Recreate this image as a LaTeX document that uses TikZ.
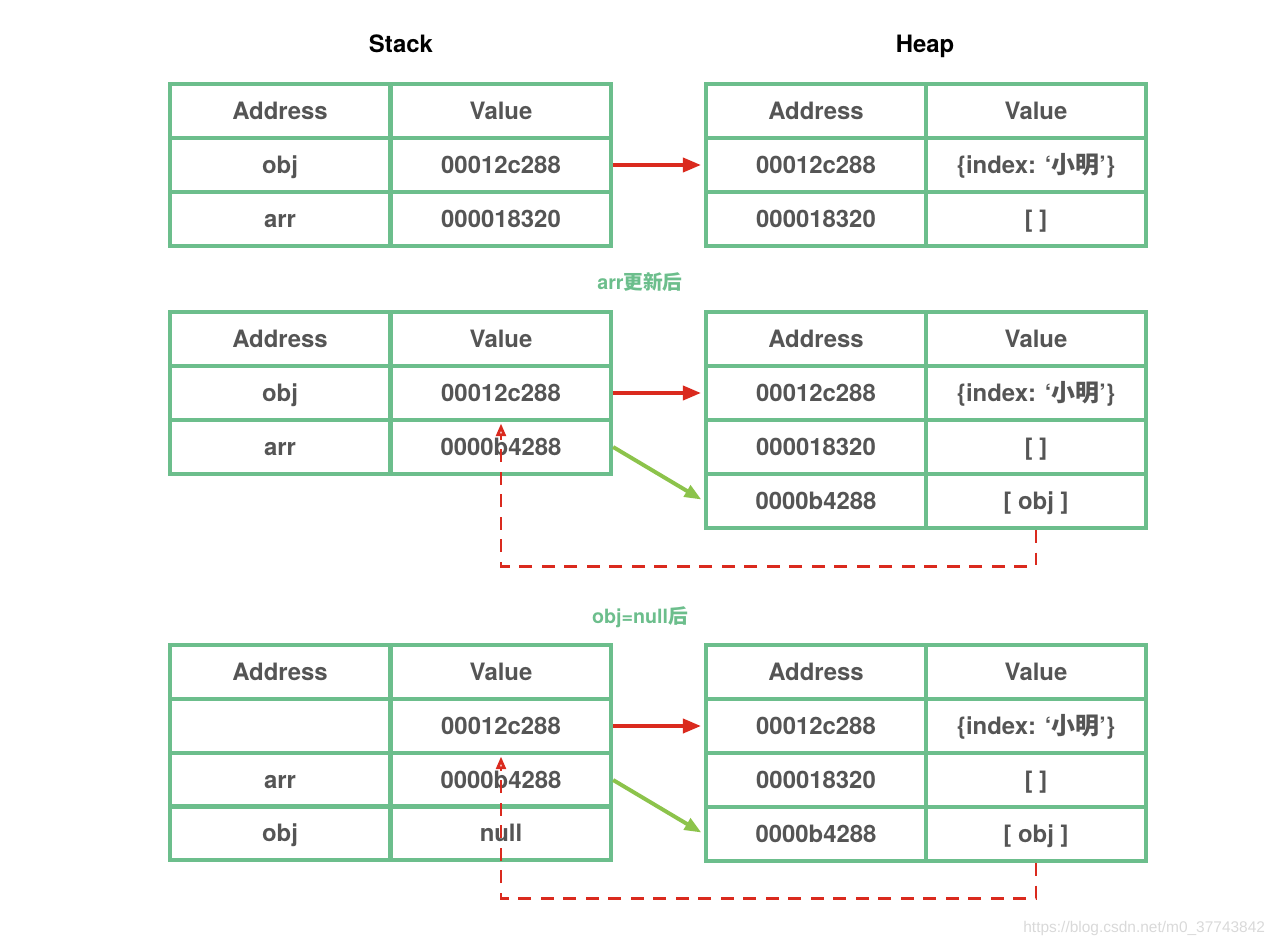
\documentclass[tikz,border=0pt]{standalone}
\usepackage{fontspec}
\setmainfont{TeX Gyre Heros}
\newfontfamily\cjk{Noto Sans CJK SC}
\newfontfamily\wmfont{Liberation Sans}
\usetikzlibrary{arrows.meta}
\definecolor{gridgreen}{RGB}{108,190,140}
\definecolor{cellgray}{RGB}{85,85,85}
\definecolor{refred}{RGB}{218,42,30}
\definecolor{newgreen}{RGB}{140,195,75}
\tikzset{
	x=0.025cm, y=-0.025cm,
	cell/.style = {
		shape=rectangle,
		draw=gridgreen,
		line width=3pt,
		minimum width=5.5cm,
		minimum height=1.35cm,
		inner sep=0pt,
		text height=14pt,
		text depth=2pt,
		text=cellgray,
		font=\fontsize{17}{20}\selectfont\bfseries
	},
	title/.style = {font=\fontsize{17}{20}\selectfont\bfseries, text=black,
		text height=14pt, text depth=2pt},
	note/.style = {font=\fontsize{14}{16}\selectfont\bfseries, text=gridgreen,
		text height=12.5pt, text depth=1.7pt},
	watermark/.style = {font=\wmfont\fontsize{11}{13}\selectfont, text=black!15},
	refarrow/.style = {draw=refred, line width=2.8pt, shorten >=2pt,
		-{Triangle[length=13pt, width=10pt]}},
	newarrow/.style = {draw=newgreen, line width=2.8pt, shorten >=2pt,
		-{Triangle[length=12pt, width=9pt]}},
	backref/.style = {draw=refred, line width=2pt, dash pattern=on 9pt off 7pt,
		shorten >=4pt, -{Triangle[open, length=9pt, width=7pt]}}
}

\begin{document}
\begin{tikzpicture}
	\useasboundingbox (0,0) rectangle (1280,945);

	\node[title] (stackhd) at (401,44) {Stack};
	\node[title] (heaphd) at (925,44) {Heap};

	% first state
	\node[cell] (s1a0) at (280,111) {Address};
	\node[cell] (s1v0) at (501,111) {Value};
	\node[cell] (s1a1) at (280,165) {obj};
	\node[cell] (s1v1) at (501,165) {00012c288};
	\node[cell] (s1a2) at (280,219) {arr};
	\node[cell] (s1v2) at (501,219) {000018320};

	\node[cell] (h1a0) at (816,111) {Address};
	\node[cell] (h1v0) at (1036,111) {Value};
	\node[cell] (h1a1) at (816,165) {00012c288};
	\node[cell] (h1v1) at (1036,165) {\{index: ‘{\cjk 小明}’\}};
	\node[cell] (h1a2) at (816,219) {000018320};
	\node[cell] (h1v2) at (1036,219) {[ ]};

	% after arr changes
	\node[note] (note1) at (640,282) {arr{\cjk 更新后}};

	\node[cell] (s2a0) at (280,339) {Address};
	\node[cell] (s2v0) at (501,339) {Value};
	\node[cell] (s2a1) at (280,393) {obj};
	\node[cell] (s2v1) at (501,393) {00012c288};
	\node[cell] (s2a2) at (280,447) {arr};
	\node[cell] (s2v2) at (501,447) {0000b4288};

	\node[cell] (h2a0) at (816,339) {Address};
	\node[cell] (h2v0) at (1036,339) {Value};
	\node[cell] (h2a1) at (816,393) {00012c288};
	\node[cell] (h2v1) at (1036,393) {\{index: ‘{\cjk 小明}’\}};
	\node[cell] (h2a2) at (816,447) {000018320};
	\node[cell] (h2v2) at (1036,447) {[ ]};
	\node[cell] (h2a3) at (816,501) {0000b4288};
	\node[cell] (h2v3) at (1036,501) {[ obj ]};

	% after obj=null
	\node[note] (note2) at (640,616) {obj=null{\cjk 后}};

	\node[cell] (s3a0) at (280,672) {Address};
	\node[cell] (s3v0) at (501,672) {Value};
	\node[cell] (s3a1) at (280,726) {};
	\node[cell] (s3v1) at (501,726) {00012c288};
	\node[cell] (s3a2) at (280,780) {arr};
	\node[cell] (s3v2) at (501,780) {0000b4288};
	\node[cell] (s3a3) at (280,833) {obj};
	\node[cell] (s3v3) at (501,833) {null};

	\node[cell] (h3a0) at (816,672) {Address};
	\node[cell] (h3v0) at (1036,672) {Value};
	\node[cell] (h3a1) at (816,726) {00012c288};
	\node[cell] (h3v1) at (1036,726) {\{index: ‘{\cjk 小明}’\}};
	\node[cell] (h3a2) at (816,780) {000018320};
	\node[cell] (h3v2) at (1036,780) {[ ]};
	\node[cell] (h3a3) at (816,834) {0000b4288};
	\node[cell] (h3v3) at (1036,834) {[ obj ]};

	\draw[refarrow] (s1v1.east) -- (h1a1.west);
	\draw[refarrow] (s2v1.east) -- (h2a1.west);
	\draw[refarrow] (s3v1.east) -- (h3a1.west);
	\draw[newarrow] (s2v2.east) -- (h2a3.west);
	\draw[newarrow] (s3v2.east) -- (h3a3.west);
	\draw[backref] (h2v3.south) -- ++(0,36) -| (s2v2.north);
	\draw[backref] (h3v3.south) -- ++(0,35) -| (s3v2.north);

	\node[watermark, anchor=east] (wm) at (1270,928) {https://blog.csdn.net/m0\_37743842};
\end{tikzpicture}
\end{document}
